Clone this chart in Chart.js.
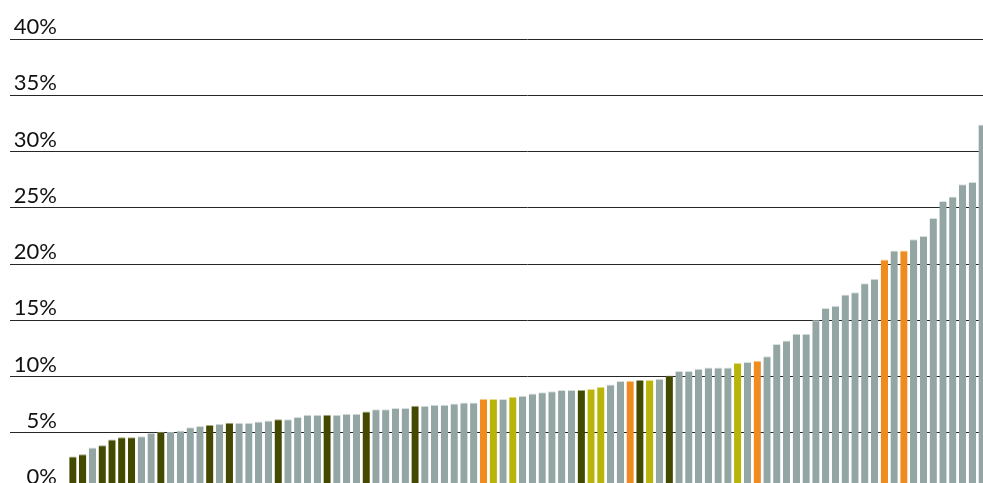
<!DOCTYPE html>
<html>
<head>
<meta charset="utf-8">
<script src="https://cdn.jsdelivr.net/npm/chart.js@4/dist/chart.umd.min.js"></script>
<style>
  html, body { margin: 0; padding: 0; background: #fff; overflow: hidden; }
  #wrap { position: absolute; left: 0; top: 0; width: 987px; height: 504px; }
</style>
</head>
<body>
<div id="wrap"><canvas id="c" width="987" height="504" style="width:987px;height:504px"></canvas></div>
<script>
// ---- data ----
const categories = Array.from({length: 94}, (_, i) => 'Item ' + (i + 1));
const values = [
  2.9, 3.1, 3.7, 3.9, 4.4, 4.6, 4.6, 4.7, 5.0, 5.1,
  5.1, 5.2, 5.5, 5.6, 5.7, 5.8, 5.9, 5.9, 5.9, 6.0,
  6.1, 6.2, 6.2, 6.4, 6.6, 6.6, 6.6, 6.6, 6.7, 6.7,
  6.9, 7.1, 7.1, 7.2, 7.2, 7.4, 7.4, 7.5, 7.5, 7.6,
  7.7, 7.7, 8.0, 8.0, 8.0, 8.2, 8.3, 8.5, 8.6, 8.7,
  8.8, 8.8, 8.8, 8.9, 9.1, 9.3, 9.6, 9.6, 9.7, 9.7,
  9.8, 10.1, 10.5, 10.5, 10.7, 10.8, 10.8, 10.8, 11.2, 11.3,
  11.4, 11.8, 12.9, 13.2, 13.8, 13.8, 15.0, 16.1, 16.3, 17.3,
  17.5, 18.3, 18.7, 20.4, 21.2, 21.2, 22.2, 22.5, 24.1, 25.6,
  26.0, 27.1, 27.3, 32.4
];
// group of each bar: G = grey, D = dark olive, Y = yellow, O = orange
const groups = [
  'D','D','G','D','D','D','D','G','G','D',
  'G','G','G','G','D','G','D','G','G','G',
  'G','D','G','G','G','G','D','G','G','G',
  'D','G','G','G','G','D','G','G','G','G',
  'G','G','O','Y','G','Y','G','G','G','G',
  'G','G','D','Y','Y','G','G','O','D','Y',
  'G','D','G','G','G','G','G','G','Y','G',
  'O','G','G','G','G','G','G','G','G','G',
  'G','G','G','O','G','O','G','G','G','G',
  'G','G','G','G'
];
const yTicks = [0, 5, 10, 15, 20, 25, 30, 35, 40];

// ---- styles ----
const fill = { G: '#93a6a4', D: '#434a00', Y: '#b8b40a', O: '#f08c1f' };
const edge = { G: '#d9e1e0', D: '#a4a880', Y: '#e2e08e', O: '#f8c78e' };

new Chart(document.getElementById('c'), {
  type: 'bar',
  data: {
    labels: categories,
    datasets: [{
      data: values,
      backgroundColor: groups.map(g => fill[g]),
      borderColor: groups.map(g => edge[g]),
      borderWidth: { top: 1, left: 0, right: 0, bottom: 0 },
      borderSkipped: 'bottom',
      categoryPercentage: 1.0,
      barPercentage: 0.75
    }]
  },
  options: {
    responsive: false,
    animation: false,
    devicePixelRatio: 1,
    layout: { padding: { top: 39, bottom: 15, left: 0, right: 0 } },
    plugins: { legend: { display: false }, tooltip: { enabled: false } },
    scales: {
      x: { display: false },
      y: {
        min: 0,
        max: 40,
        afterFit: (scale) => { scale.width = 68; },
        afterBuildTicks: (scale) => { scale.ticks = yTicks.map(v => ({ value: v })); },
        border: { display: false },
        grid: {
          color: '#262626',
          lineWidth: 1,
          drawTicks: true,
          tickLength: 58
        },
        ticks: {
          padding: -47,
          labelOffset: -12,
          color: '#111',
          font: { family: 'Lato', size: 22 },
          callback: (v) => v + '%'
        }
      }
    }
  }
});
</script>
</body>
</html>
